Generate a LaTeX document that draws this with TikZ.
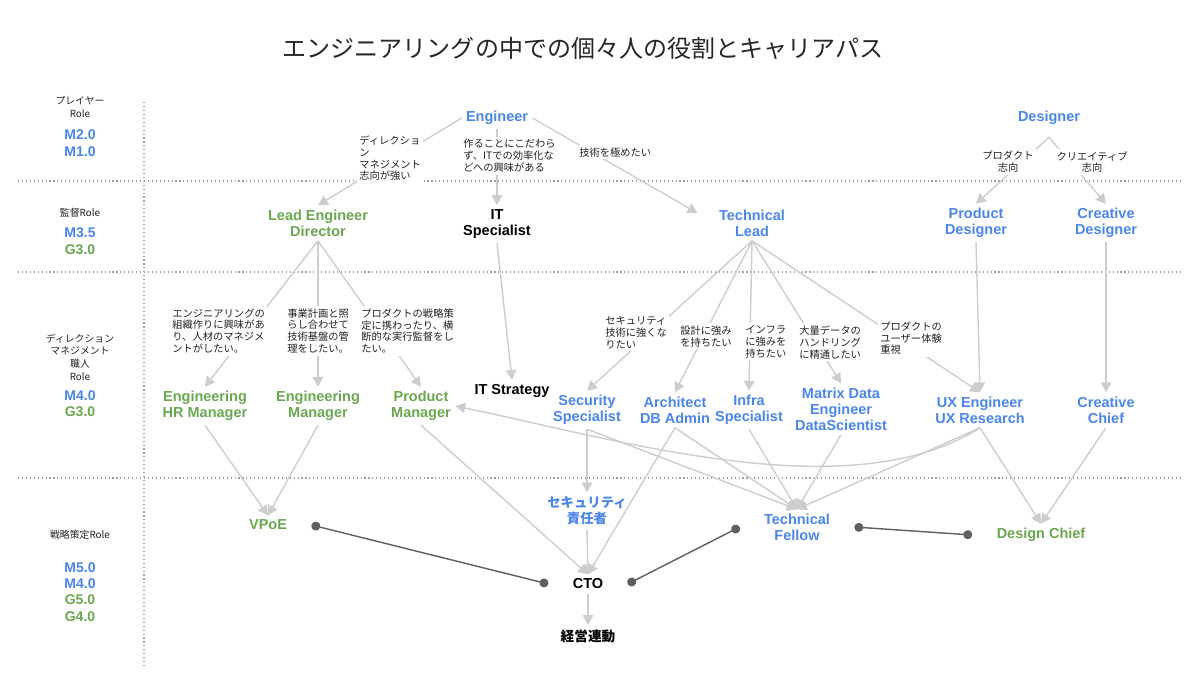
\documentclass[tikz,border=0pt]{standalone}
\usepackage{fontspec}
\setmainfont{Liberation Sans}
\newfontfamily\jp{Noto Sans CJK JP}
\usetikzlibrary{arrows.meta}
\definecolor{engblue}{HTML}{4A86E8}
\definecolor{mgrgreen}{HTML}{6AA84F}
\definecolor{movegray}{HTML}{CDCDCD}
\definecolor{linkgray}{HTML}{5F5F5F}
\definecolor{notegray}{HTML}{222222}

\begin{document}
\begin{tikzpicture}[x={(0.025cm,0)}, y={(0,-0.025cm)},
    role/.style={font=\fontsize{10.3}{11.3}\selectfont\bfseries, align=center, inner sep=3pt},
    eng/.style={role, text=engblue},
    mgr/.style={role, text=mgrgreen},
    blk/.style={role, text=black},
    head/.style={font=\jp\fontsize{7}{9}\selectfont, align=center, text=notegray},
    lvl/.style={font=\fontsize{10}{12}\selectfont\bfseries, inner sep=1pt},
    note/.style={font=\jp\fontsize{7.3}{8.5}\selectfont, text=notegray, align=left,
        fill=white, inner sep=1.5pt, anchor=north west},
    cnote/.style={note, align=center, anchor=center},
    move/.style={draw=movegray, line width=1pt, -{Triangle[length=7pt,width=7.5pt]}},
    link/.style={draw=linkgray, line width=1pt, {Circle[length=6.4pt]}-{Circle[length=6.4pt]}},
    sep/.style={draw=gray!75, line width=0.8pt, dash pattern=on 0.8pt off 2pt}]

    \useasboundingbox (0,0) rectangle (1200,677);

    \node[font=\jp\fontsize{17.1}{20}\selectfont, text=black!85] (title) at (583,48)
        {エンジニアリングの中での個々人の役割とキャリアパス};

    \draw[sep] (18,181) -- (1180,181);
    \draw[sep] (18,272) -- (1180,272);
    \draw[sep] (18,478) -- (1180,478);
    \draw[sep] (144,102) -- (144,668);

    \node[head] (hplayer) at (80,107) {プレイヤー\\Role};
    \node[lvl, text=engblue] (lm20) at (80,135) {M2.0};
    \node[lvl, text=engblue] (lm10) at (80,152) {M1.0};
    \node[head] (hkantoku) at (80,213) {監督Role};
    \node[lvl, text=engblue] (lm35) at (80,233) {M3.5};
    \node[lvl, text=mgrgreen] (lg30a) at (80,250) {G3.0};
    \node[head] (hshokunin) at (80,357) {ディレクション\\マネジメント\\職人\\Role};
    \node[lvl, text=engblue] (lm40a) at (80,396) {M4.0};
    \node[lvl, text=mgrgreen] (lg30b) at (80,412) {G3.0};
    \node[head] (hsenryaku) at (80,535) {戦略策定Role};
    \node[lvl, text=engblue] (lm50) at (80,568) {M5.0};
    \node[lvl, text=engblue] (lm40b) at (80,584) {M4.0};
    \node[lvl, text=mgrgreen] (lg50) at (80,600) {G5.0};
    \node[lvl, text=mgrgreen] (lg40) at (80,617) {G4.0};

    \node[eng] (eng) at (497,118) {Engineer};
    \node[eng, minimum height=0.95cm] (dsgn) at (1049,118) {Designer};

    \node[mgr] (lead) at (318,223) {Lead Engineer\\Director};
    \node[blk] (itspec) at (497,224) {IT\\Specialist};
    \node[eng] (tlead) at (752,223) {Technical\\Lead};
    \node[eng] (pdsgn) at (976,223) {Product\\Designer};
    \node[eng] (cdsgn) at (1106,223) {Creative\\Designer};

    \node[mgr] (hrmgr) at (205,406) {Engineering\\HR Manager};
    \node[mgr] (engmgr) at (318,406) {Engineering\\Manager};
    \node[mgr] (pmgr) at (421,406) {Product\\Manager};
    \node[blk] (itstrat) at (512,391) {IT Strategy};
    \node[eng] (secspec) at (587,410) {Security\\Specialist};
    \node[eng] (arch) at (675,410) {Architect\\DB Admin};
    \node[eng] (infra) at (749,410) {Infra\\Specialist};
    \node[eng] (matrix) at (841,409) {Matrix Data\\Engineer\\DataScientist};
    \node[eng] (ux) at (980,410) {UX Engineer\\UX Research};
    \node[eng] (cchief) at (1106,410) {Creative\\Chief};

    \node[mgr] (vpoe) at (268,525) {VPoE};
    \node[eng, font=\jp\fontsize{9.5}{11.3}\selectfont\bfseries] (secchief) at (587,511) {セキュリティ\\責任者};
    \node[eng] (tfellow) at (797,527) {Technical\\Fellow};
    \node[mgr] (dchief) at (1041,535) {Design Chief};
    \node[blk] (cto) at (588,584) {CTO};
    \node[blk, font=\jp\fontsize{9.7}{11.3}\selectfont\bfseries] (mgmt) at (588,636) {経営連動};

    \draw[move] (eng.west) -- (lead.north);
    \draw[move] (eng.south) -- (itspec.north);
    \draw[move, shorten >=5mm] (eng.east) -- (tlead.west);
    \draw[move] (dsgn.south) -- (pdsgn.north);
    \draw[move] (dsgn.south) -- (cdsgn.north);

    \draw[move] (lead.south) -- (hrmgr.north);
    \draw[move] (lead.south) -- (engmgr.north);
    \draw[move] (lead.south) -- (pmgr.north);
    \draw[move] (itspec.south) -- (itstrat.north);
    \draw[move] (tlead.south) -- (secspec.north);
    \draw[move] (tlead.south) -- (arch.north);
    \draw[move] (tlead.south) -- (infra.north);
    \draw[move] (tlead.south) -- (matrix.north);
    \draw[move] (tlead.south) -- (ux.north);
    \draw[move] (pdsgn.south) -- (ux.north);
    \draw[move] (cdsgn.south) -- (cchief.north);

    \draw[move] (hrmgr.south) -- (vpoe.north);
    \draw[move] (engmgr.south) -- (vpoe.north);
    \draw[move] (pmgr.south) -- (cto.north);
    \draw[move] (secspec.south) -- (secchief.north);
    \draw[move] (secspec.south) -- (tfellow.north);
    \draw[move] (arch.south) -- (cto.north);
    \draw[move] (arch.south) -- (tfellow.north);
    \draw[move] (infra.south) -- (tfellow.north);
    \draw[move] (matrix.south) -- (tfellow.north);
    \draw[move] (ux.south) -- (tfellow.north);
    \draw[move] (ux.south) -- (dchief.north);
    \draw[move] (cchief.south) -- (dchief.north);
    \draw[move] (ux.south) .. controls (850,510) and (620,440) .. (pmgr.east);
    \draw[move] (secchief.south) -- (cto.north);
    \draw[move] (cto.south) -- (mgmt.north);

    \draw[link] ([xshift=5mm]vpoe.east) -- ([xshift=-5mm]cto.west);
    \draw[link] ([xshift=5mm]cto.east) -- ([xshift=-5mm]tfellow.west);
    \draw[link] ([xshift=5mm]tfellow.east) -- ([xshift=-5mm]dchief.west);

    \node[note] (n1) at (357,133) {ディレクショ\\ン\\マネジメント\\志向が強い};
    \node[note] (n2) at (461,137) {作ることにこだわら\\ず、ITでの効率化な\\どへの興味がある};
    \node[note] (n3) at (577,145) {技術を極めたい};
    \node[cnote] (n4) at (1008,162) {プロダクト\\志向};
    \node[cnote] (n5) at (1092,162) {クリエイティブ\\志向};
    \node[note] (n6) at (170,306) {エンジニアリングの\\組織作りに興味があ\\り、人材のマネジメ\\ントがしたい。};
    \node[note] (n7) at (285,306) {事業計画と照\\らし合わせて\\技術基盤の管\\理をしたい。};
    \node[note] (n8) at (359,306) {プロダクトの戦略策\\定に携わったり、横\\断的な実行監督をし\\たい。};
    \node[note] (n9) at (603,314) {セキュリティ\\技術に強くな\\りたい};
    \node[note] (n10) at (678,323) {設計に強み\\を持ちたい};
    \node[note] (n11) at (743,323) {インフラ\\に強みを\\持ちたい};
    \node[note] (n12) at (797,323) {大量データの\\ハンドリング\\に精通したい};
    \node[note] (n13) at (878,319) {プロダクトの\\ユーザー体験\\重視};
\end{tikzpicture}
\end{document}
